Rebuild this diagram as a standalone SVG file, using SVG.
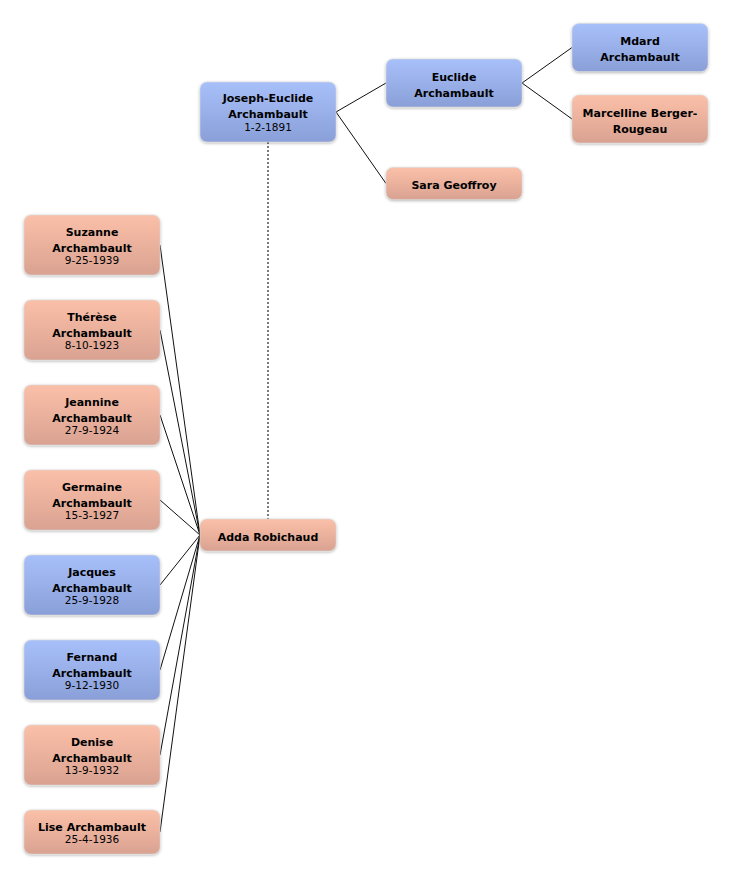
<svg xmlns="http://www.w3.org/2000/svg" width="732" height="879" viewBox="0 0 732 879">
<defs>
<linearGradient id="gBlue" x1="0" y1="0" x2="0" y2="1">
<stop offset="0" stop-color="#a8c0fa"/>
<stop offset="1" stop-color="#8a9fd8"/>
</linearGradient>
<linearGradient id="gPink" x1="0" y1="0" x2="0" y2="1">
<stop offset="0" stop-color="#fbc0a8"/>
<stop offset="1" stop-color="#d9a291"/>
</linearGradient>
<filter id="sh" x="-10%" y="-20%" width="120%" height="150%">
<feDropShadow dx="0" dy="1" stdDeviation="1.5" flood-color="#000" flood-opacity="0.3"/>
</filter>
</defs>
<style>
.box{filter:url(#sh);stroke:#d8d8d8;stroke-width:0.6}
.m{fill:url(#gBlue)}
.f{fill:url(#gPink)}
.n{font-family:"DejaVu Sans",Verdana,sans-serif;font-weight:bold;font-size:11px;fill:#000;text-anchor:middle}
.d{font-family:"DejaVu Sans",Verdana,sans-serif;font-size:10.5px;fill:#000;text-anchor:middle}
.c{stroke:#111;stroke-width:1;fill:none}
.dot{stroke:#7a7a7a;stroke-width:2;stroke-dasharray:2 2;fill:none}
</style>
<rect width="732" height="879" fill="#fff"/>
<g id="connectors">
<line class="dot" x1="268" y1="142" x2="268" y2="519"/>
<line class="c" x1="336" y1="112" x2="386" y2="83"/>
<line class="c" x1="336" y1="112" x2="386" y2="183.5"/>
<line class="c" x1="522" y1="83" x2="572" y2="47.5"/>
<line class="c" x1="522" y1="83" x2="572" y2="119"/>
<line class="c" x1="160" y1="245" x2="200" y2="535"/>
<line class="c" x1="160" y1="330" x2="200" y2="535"/>
<line class="c" x1="160" y1="415" x2="200" y2="535"/>
<line class="c" x1="160" y1="500" x2="200" y2="535"/>
<line class="c" x1="160" y1="585" x2="200" y2="535"/>
<line class="c" x1="160" y1="670" x2="200" y2="535"/>
<line class="c" x1="160" y1="755" x2="200" y2="535"/>
<line class="c" x1="160" y1="832" x2="200" y2="535"/>
</g>
<g id="joseph">
<rect class="box m" x="200" y="82" width="136" height="60" rx="7"/>
<text class="n" x="268" y="102">Joseph-Euclide</text>
<text class="n" x="268" y="117.7">Archambault</text>
<text class="d" x="268" y="131">1-2-1891</text>
</g>
<g id="euclide">
<rect class="box m" x="386" y="59" width="136" height="48" rx="7"/>
<text class="n" x="454" y="81">Euclide</text>
<text class="n" x="454" y="96.7">Archambault</text>
</g>
<g id="mdard">
<rect class="box m" x="572" y="23.5" width="136" height="48" rx="7"/>
<text class="n" x="640" y="45">Mdard</text>
<text class="n" x="640" y="60.7">Archambault</text>
</g>
<g id="marcelline">
<rect class="box f" x="572" y="95" width="136" height="48" rx="7"/>
<text class="n" x="640" y="116.7">Marcelline Berger-</text>
<text class="n" x="640" y="132.7">Rougeau</text>
</g>
<g id="sara">
<rect class="box f" x="386" y="167.5" width="136" height="32" rx="7"/>
<text class="n" x="454" y="189">Sara Geoffroy</text>
</g>
<g id="adda">
<rect class="box f" x="200" y="519" width="136" height="32" rx="7"/>
<text class="n" x="268" y="540.5">Adda Robichaud</text>
</g>
<g id="suzanne">
<rect class="box f" x="24" y="215" width="136" height="60" rx="7"/>
<text class="n" x="92" y="236">Suzanne</text>
<text class="n" x="92" y="251.7">Archambault</text>
<text class="d" x="92" y="264.3">9-25-1939</text>
</g>
<g id="therese">
<rect class="box f" x="24" y="300" width="136" height="60" rx="7"/>
<text class="n" x="92" y="321">Thérèse</text>
<text class="n" x="92" y="336.7">Archambault</text>
<text class="d" x="92" y="349.3">8-10-1923</text>
</g>
<g id="jeannine">
<rect class="box f" x="24" y="385" width="136" height="60" rx="7"/>
<text class="n" x="92" y="406">Jeannine</text>
<text class="n" x="92" y="421.7">Archambault</text>
<text class="d" x="92" y="434.3">27-9-1924</text>
</g>
<g id="germaine">
<rect class="box f" x="24" y="470" width="136" height="60" rx="7"/>
<text class="n" x="92" y="491">Germaine</text>
<text class="n" x="92" y="506.7">Archambault</text>
<text class="d" x="92" y="519.3">15-3-1927</text>
</g>
<g id="jacques">
<rect class="box m" x="24" y="555" width="136" height="60" rx="7"/>
<text class="n" x="92" y="576">Jacques</text>
<text class="n" x="92" y="591.7">Archambault</text>
<text class="d" x="92" y="604.3">25-9-1928</text>
</g>
<g id="fernand">
<rect class="box m" x="24" y="640" width="136" height="60" rx="7"/>
<text class="n" x="92" y="661">Fernand</text>
<text class="n" x="92" y="676.7">Archambault</text>
<text class="d" x="92" y="689.3">9-12-1930</text>
</g>
<g id="denise">
<rect class="box f" x="24" y="725" width="136" height="60" rx="7"/>
<text class="n" x="92" y="746">Denise</text>
<text class="n" x="92" y="761.7">Archambault</text>
<text class="d" x="92" y="774.3">13-9-1932</text>
</g>
<g id="lise">
<rect class="box f" x="24" y="810" width="136" height="44" rx="7"/>
<text class="n" x="92" y="830.7">Lise Archambault</text>
<text class="d" x="92" y="843.3">25-4-1936</text>
</g>
</svg>
